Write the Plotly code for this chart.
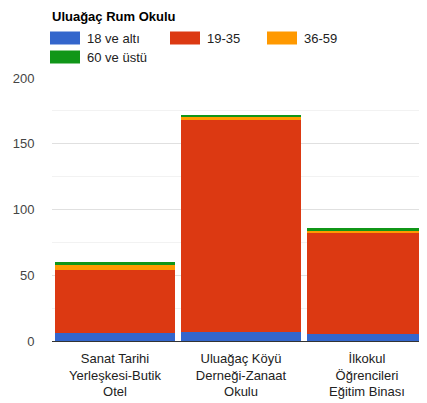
import plotly.graph_objects as go

title = "Uluağaç Rum Okulu"
categories = ["Sanat Tarihi<br>Yerleşkesi-Butik<br>Otel",
              "Uluağaç Köyü<br>Derneği-Zanaat<br>Okulu",
              "İlkokul<br>Öğrencileri<br>Eğitim Binası"]
series_names = ["18 ve altı", "19-35", "36-59", "60 ve üstü"]
series_colors = ["#3366cc", "#dc3912", "#ff9900", "#109618"]
val_18_alti = [6, 7, 5]
val_19_35 = [48, 161, 77]
val_36_59 = [4, 2, 2]
val_60_ustu = [2, 2, 2]
series_values = [val_18_alti, val_19_35, val_36_59, val_60_ustu]
y_ticks = [0, 50, 100, 150, 200]

OFF = 8  # page body margin
W, H = 427 - OFF, 403 - OFF
ML, MR, MT, MB = 52 - OFF, 0, 78 - OFF, 62
PW = W - ML - MR
PH = H - MT - MB

FONT = "Liberation Sans, Arial"

fig = go.Figure()
for name, color, vals in zip(series_names, series_colors, series_values):
    fig.add_trace(go.Bar(x=categories, y=vals, name=name, marker_color=color,
                         marker_line_width=0, showlegend=False))

def px_x(p):
    return (p - OFF - ML) / PW

def px_y(p):
    return 1 - (p - OFF - MT) / PH

shapes = []
annotations = []
legend_pos = [(50, 38), (170, 38), (267, 38), (50, 57)]
for (lx, ly), name, color in zip(legend_pos, series_names, series_colors):
    shapes.append(dict(type="rect", xref="paper", yref="paper",
                       x0=px_x(lx), x1=px_x(lx + 30), y0=px_y(ly + 6.5), y1=px_y(ly - 6.5),
                       fillcolor=color, line_width=0))
    annotations.append(dict(text=name, xref="paper", yref="paper",
                            x=px_x(lx + 35), y=px_y(ly), xanchor="left", yanchor="middle",
                            showarrow=False, font=dict(size=13, color="#222222", family=FONT)))
annotations.append(dict(text="<b>" + title + "</b>", xref="paper", yref="paper",
                        x=px_x(50), y=px_y(17), xanchor="left", yanchor="middle",
                        showarrow=False, font=dict(size=13, color="#000000", family=FONT)))

fig.update_layout(
    barmode="stack", bargap=0.05,
    width=W, height=H,
    margin=dict(l=ML, r=MR, t=MT, b=MB, pad=0),
    paper_bgcolor="white", plot_bgcolor="white",
    font=dict(family=FONT, size=13, color="#222222"),
    shapes=shapes, annotations=annotations,
    showlegend=False,
)
fig.update_xaxes(range=[-0.5, -0.5 + PW / 126], showgrid=False, showline=False,
                 ticks="outside", ticklen=5, tickcolor="rgba(0,0,0,0)",
                 tickfont=dict(size=13, color="#222222"), fixedrange=True)
fig.update_yaxes(range=[0, 200], tickvals=y_ticks, showgrid=True, gridcolor="#e0e0e0",
                 gridwidth=1, zeroline=True, zerolinecolor="#333333", zerolinewidth=1,
                 minor=dict(dtick=25, showgrid=True, gridcolor="#f2f2f2", gridwidth=1),
                 ticks="outside", ticklen=14, tickcolor="rgba(0,0,0,0)",
                 tickfont=dict(size=13, color="#444444"), fixedrange=True)

fig.write_html("out.html", config={"displayModeBar": False})
